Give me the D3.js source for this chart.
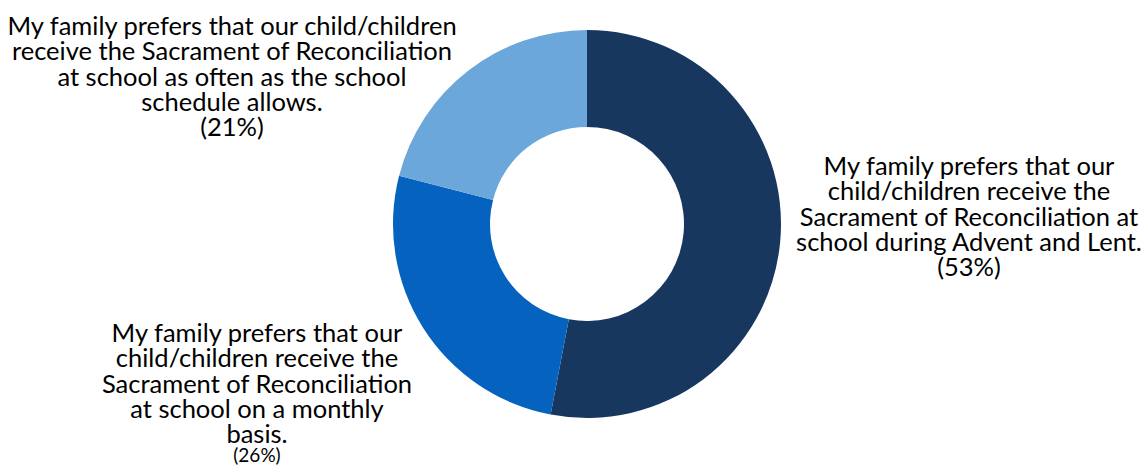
<!DOCTYPE html>
<html>
<head>
<meta charset="utf-8">
<script src="https://cdn.jsdelivr.net/npm/d3@7"></script>
<style>
  html, body { margin: 0; padding: 0; background: #fff; }
  svg { display: block; }
  text { font-family: "Lato", "Noto Sans", sans-serif; fill: #000; }
</style>
</head>
<body>
<svg id="chart" width="1146" height="466"></svg>
<script>
const categories = [
  "My family prefers that our child/children receive the Sacrament of Reconciliation at school during Advent and Lent.",
  "My family prefers that our child/children receive the Sacrament of Reconciliation at school on a monthly basis.",
  "My family prefers that our child/children receive the Sacrament of Reconciliation at school as often as the school schedule allows."
];
const values = [53, 26, 21];
const percentLabels = ["(53%)", "(26%)", "(21%)"];
const labelLines = [
  ["My family prefers that our", "child/children receive the", "Sacrament of Reconciliation at", "school during Advent and Lent."],
  ["My family prefers that our", "child/children receive the", "Sacrament of Reconciliation", "at school on a monthly", "basis."],
  ["My family prefers that our child/children", "receive the Sacrament of Reconciliation", "at school as often as the school", "schedule allows."]
];
const colors = ["#17375E", "#0563BF", "#6CA7DB"];

const svg = d3.select("#chart");
const cx = 587, cy = 224, outerR = 194, innerR = 97;

const pie = d3.pie().sort(null).value(d => d);
const arc = d3.arc().innerRadius(innerR).outerRadius(outerR);
const color = d3.scaleOrdinal().domain(d3.range(values.length)).range(colors);

const g = svg.append("g").attr("transform", `translate(${cx},${cy})`);
g.selectAll("path").data(pie(values)).join("path")
  .attr("d", arc)
  .attr("fill", (d, i) => color(i));

// label placement (center x, first baseline)
const labelPos = [
  { x: 969, y: 175, pctSize: 25.5, pctGap: 0 },
  { x: 257, y: 342, pctSize: 19, pctGap: -7 },
  { x: 232, y: 35, pctSize: 25.5, pctGap: 0 }
];
const fontSize = 25.5, lineH = 25.3;

labelLines.forEach((lines, i) => {
  const p = labelPos[i];
  const t = svg.append("text")
    .attr("text-anchor", "middle")
    .attr("font-size", fontSize);
  lines.forEach((ln, j) => {
    t.append("tspan").attr("x", p.x).attr("y", p.y + j * lineH).text(ln);
  });
  svg.append("text")
    .attr("text-anchor", "middle")
    .attr("font-size", p.pctSize)
    .attr("x", p.x).attr("y", p.y + lines.length * lineH + p.pctGap)
    .text(percentLabels[i]);
});
</script>
</body>
</html>
